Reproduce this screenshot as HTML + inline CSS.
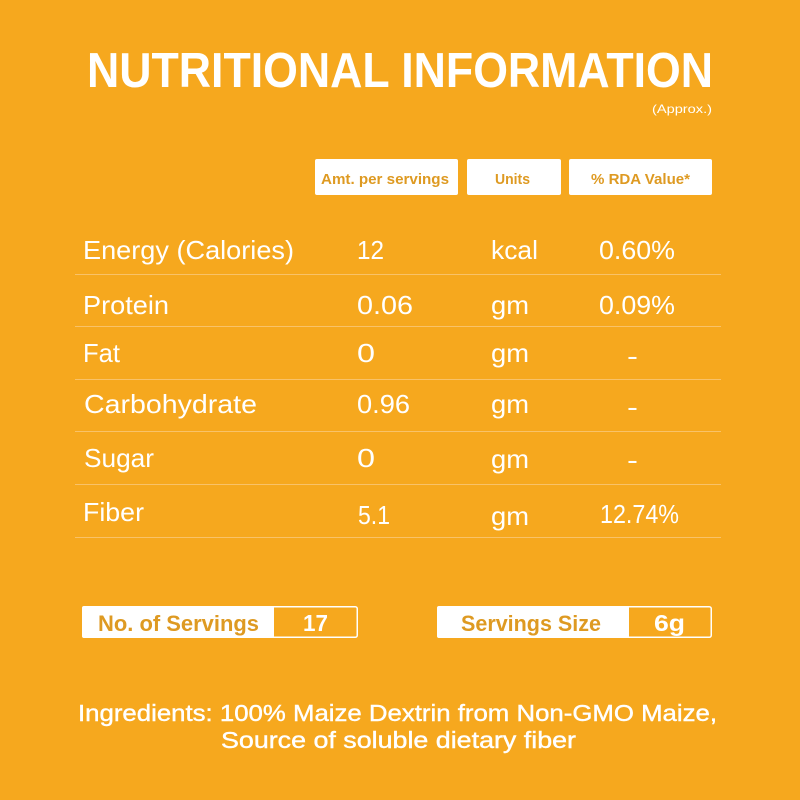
<!DOCTYPE html>
<html>
<head>
<meta charset="utf-8">
<style>
  html,body{margin:0;padding:0;background:#F6A81E;}
  svg{display:block;}
  text{font-family:"Liberation Sans", Arial, sans-serif;}
</style>
</head>
<body>
<svg width="800" height="800" viewBox="0 0 800 800" xmlns="http://www.w3.org/2000/svg">
  <rect x="0" y="0" width="800" height="800" fill="#F6A81E"/>

  <!-- Title -->
  <text x="87" y="87" font-size="49" font-weight="bold" fill="#FFFFFF" textLength="626" lengthAdjust="spacingAndGlyphs">NUTRITIONAL INFORMATION</text>
  <text x="652" y="113" font-size="12" fill="#FFFFFF" textLength="60" lengthAdjust="spacingAndGlyphs">(Approx.)</text>

  <!-- Header boxes -->
  <rect x="315" y="159" width="143" height="36" rx="2" fill="#FFFFFF"/>
  <rect x="467" y="159" width="94" height="36" rx="2" fill="#FFFFFF"/>
  <rect x="569" y="159" width="143" height="36" rx="2" fill="#FFFFFF"/>
  <g font-size="15" font-weight="bold" fill="#DE9A22">
    <text x="321" y="184" textLength="128" lengthAdjust="spacingAndGlyphs">Amt. per servings</text>
    <text x="495" y="184" textLength="35" lengthAdjust="spacingAndGlyphs">Units</text>
    <text x="591" y="184" textLength="99" lengthAdjust="spacingAndGlyphs">% RDA Value*</text>
  </g>

  <!-- Row separator lines -->
  <g stroke="#F9C268" stroke-width="1">
    <line x1="75" y1="274.5" x2="721" y2="274.5"/>
    <line x1="75" y1="326.5" x2="721" y2="326.5"/>
    <line x1="75" y1="379.5" x2="721" y2="379.5"/>
    <line x1="75" y1="431.5" x2="721" y2="431.5"/>
    <line x1="75" y1="484.5" x2="721" y2="484.5"/>
    <line x1="75" y1="537.5" x2="721" y2="537.5"/>
  </g>

  <!-- Table text -->
  <g font-size="26" fill="#FFFFFF">
    <!-- Energy -->
    <text x="83" y="259" textLength="211" lengthAdjust="spacingAndGlyphs">Energy (Calories)</text>
    <text x="357" y="259" textLength="27" lengthAdjust="spacingAndGlyphs">12</text>
    <text x="491" y="259" textLength="47" lengthAdjust="spacingAndGlyphs">kcal</text>
    <text x="599" y="259" textLength="76" lengthAdjust="spacingAndGlyphs">0.60%</text>
    <!-- Protein -->
    <text x="83" y="314" textLength="86" lengthAdjust="spacingAndGlyphs">Protein</text>
    <text x="357" y="314" textLength="56" lengthAdjust="spacingAndGlyphs">0.06</text>
    <text x="491" y="314" textLength="38" lengthAdjust="spacingAndGlyphs">gm</text>
    <text x="599" y="314" textLength="76" lengthAdjust="spacingAndGlyphs">0.09%</text>
    <!-- Fat -->
    <text x="83" y="362" textLength="37" lengthAdjust="spacingAndGlyphs">Fat</text>
    <text x="357" y="362" textLength="18" lengthAdjust="spacingAndGlyphs">0</text>
    <text x="491" y="362" textLength="38" lengthAdjust="spacingAndGlyphs">gm</text>
    <text x="627" y="365" textLength="11" lengthAdjust="spacingAndGlyphs">-</text>
    <!-- Carbohydrate -->
    <text x="84" y="413" textLength="173" lengthAdjust="spacingAndGlyphs">Carbohydrate</text>
    <text x="357" y="413" textLength="53" lengthAdjust="spacingAndGlyphs">0.96</text>
    <text x="491" y="413" textLength="38" lengthAdjust="spacingAndGlyphs">gm</text>
    <text x="627" y="416" textLength="11" lengthAdjust="spacingAndGlyphs">-</text>
    <!-- Sugar -->
    <text x="84" y="467" textLength="70" lengthAdjust="spacingAndGlyphs">Sugar</text>
    <text x="357" y="467" textLength="18" lengthAdjust="spacingAndGlyphs">0</text>
    <text x="491" y="468" textLength="38" lengthAdjust="spacingAndGlyphs">gm</text>
    <text x="627" y="469" textLength="11" lengthAdjust="spacingAndGlyphs">-</text>
    <!-- Fiber -->
    <text x="83" y="521" textLength="61" lengthAdjust="spacingAndGlyphs">Fiber</text>
    <text x="358" y="524" textLength="32" lengthAdjust="spacingAndGlyphs">5.1</text>
    <text x="491" y="525" textLength="38" lengthAdjust="spacingAndGlyphs">gm</text>
    <text x="600" y="523" textLength="79" lengthAdjust="spacingAndGlyphs">12.74%</text>
  </g>

  <!-- Bottom boxes -->
  <rect x="82.75" y="606.75" width="274.5" height="30.5" rx="2" fill="none" stroke="#FFFFFF" stroke-width="1.5"/>
  <rect x="82" y="606" width="192" height="32" rx="2" fill="#FFFFFF"/>
  <text x="98" y="631" font-size="22" font-weight="bold" fill="#DE9A22" textLength="161" lengthAdjust="spacingAndGlyphs">No. of Servings</text>
  <text x="303" y="631" font-size="23" font-weight="bold" fill="#FFFFFF" textLength="25" lengthAdjust="spacingAndGlyphs">17</text>

  <rect x="437.75" y="606.75" width="273.5" height="30.5" rx="2" fill="none" stroke="#FFFFFF" stroke-width="1.5"/>
  <rect x="437" y="606" width="192" height="32" rx="2" fill="#FFFFFF"/>
  <text x="461" y="631" font-size="22" font-weight="bold" fill="#DE9A22" textLength="140" lengthAdjust="spacingAndGlyphs">Servings Size</text>
  <text x="654" y="631" font-size="23" font-weight="bold" fill="#FFFFFF" textLength="31" lengthAdjust="spacingAndGlyphs">6g</text>

  <!-- Ingredients -->
  <g font-size="23" fill="#FFFFFF" stroke="#FFFFFF" stroke-width="0.4">
    <text x="78" y="721" textLength="639" lengthAdjust="spacingAndGlyphs">Ingredients: 100% Maize Dextrin from Non-GMO Maize,</text>
    <text x="221" y="748" textLength="355" lengthAdjust="spacingAndGlyphs">Source of soluble dietary fiber</text>
  </g>
</svg>
</body>
</html>
